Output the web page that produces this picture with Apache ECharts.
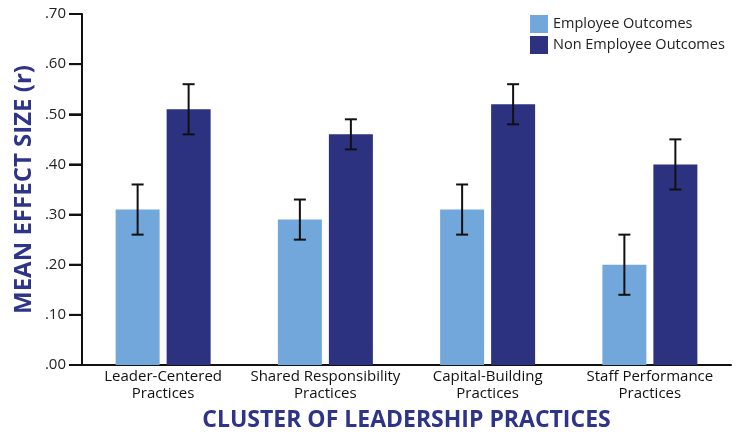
<!DOCTYPE html>
<html>
<head>
<meta charset="utf-8">
<script src="https://cdn.jsdelivr.net/npm/echarts@6/dist/echarts.min.js"></script>
<style>html,body{margin:0;padding:0;background:#fff}#c{width:741px;height:433px}</style>
</head>
<body>
<div id="c"></div>
<script>
var categories = ['Leader-Centered\nPractices', 'Shared Responsibility\nPractices', 'Capital-Building\nPractices', 'Staff Performance\nPractices'];
var seriesNames = ['Employee Outcomes', 'Non Employee Outcomes'];
var employee = [0.31, 0.29, 0.31, 0.20];
var employeeLow = [0.26, 0.25, 0.26, 0.14];
var employeeHigh = [0.36, 0.33, 0.36, 0.26];
var nonEmployee = [0.51, 0.46, 0.52, 0.40];
var nonEmployeeLow = [0.46, 0.43, 0.48, 0.35];
var nonEmployeeHigh = [0.56, 0.49, 0.56, 0.45];
var yTicks = [0, 0.1, 0.2, 0.3, 0.4, 0.5, 0.6, 0.7];

var BAR_W = 44, GAP = 7, TICK_LEN = 13, GRID_LEFT = 82;
var colors = ['#72A7DB', '#2C3180'];
var FONT = 'Open Sans';

function errSeries(low, high, idx) {
  var offset = (idx === 0 ? -1 : 1) * (BAR_W + GAP) / 2;
  return {
    type: 'custom',
    z: 10,
    silent: true,
    data: low.map(function (l, i) { return [i, l, high[i]]; }),
    renderItem: function (params, api) {
      var p1 = api.coord([api.value(0), api.value(1)]);
      var p2 = api.coord([api.value(0), api.value(2)]);
      var x = p1[0] + offset;
      var cap = 6;
      var st = { stroke: '#111', lineWidth: 2 };
      return {
        type: 'group',
        children: [
          { type: 'line', shape: { x1: x, y1: p1[1], x2: x, y2: p2[1] }, style: st },
          { type: 'line', shape: { x1: x - cap, y1: p1[1], x2: x + cap, y2: p1[1] }, style: st },
          { type: 'line', shape: { x1: x - cap, y1: p2[1], x2: x + cap, y2: p2[1] }, style: st }
        ]
      };
    }
  };
}

// y-axis ticks as a custom series: cap-like marks just left of the axis line
var tickSeries = {
  type: 'custom',
  z: 30,
  silent: true,
  clip: false,
  data: yTicks.map(function (t) { return [0, t]; }),
  renderItem: function (params, api) {
    var p = api.coord([0, api.value(1)]);
    var axisX = params.coordSys.x;
    return {
      type: 'line',
      shape: { x1: axisX - TICK_LEN, y1: p[1], x2: axisX, y2: p[1] },
      style: { stroke: '#111', lineWidth: 2 }
    };
  }
};

var chart = echarts.init(document.getElementById('c'));
chart.setOption({
  animation: false,
  textStyle: { fontFamily: FONT },
  grid: { left: GRID_LEFT, right: 10, top: 14, bottom: 68, containLabel: false, outerBoundsMode: 'none' },
  legend: {
    orient: 'vertical', left: 525, top: 10,
    itemWidth: 18, itemHeight: 18, itemGap: 3,
    icon: 'rect',
    data: seriesNames,
    textStyle: { fontSize: 14.5, color: '#222', fontFamily: FONT }
  },
  xAxis: {
    type: 'category',
    data: categories,
    axisLine: { lineStyle: { color: '#111', width: 2 } },
    axisTick: { show: false },
    axisLabel: { interval: 0, fontSize: 15, color: '#111', lineHeight: 17, margin: 3, fontFamily: FONT },
    name: 'CLUSTER OF LEADERSHIP PRACTICES',
    nameLocation: 'middle',
    nameGap: 44,
    nameTextStyle: { fontSize: 23, fontWeight: 'bold', color: '#2E3487', fontFamily: FONT }
  },
  yAxis: {
    type: 'value',
    min: 0, max: 0.7, interval: 0.1,
    axisLine: { show: true, lineStyle: { color: '#111', width: 2 } },
    axisTick: { show: true, inside: false, length: TICK_LEN, lineStyle: { color: '#111', width: 2 } },
    splitLine: { show: false },
    axisLabel: {
      margin: 16, fontSize: 15, color: '#222', fontFamily: FONT,
      formatter: function (v) { return v.toFixed(2).replace(/^0/, ''); }
    },
    name: 'MEAN EFFECT SIZE (r)',
    nameLocation: 'middle',
    nameGap: 46,
    nameMoveOverlap: false,
    nameRotate: 90,
    nameTextStyle: { fontSize: 24, fontWeight: 'bold', color: '#2E3487', fontFamily: FONT }
  },
  series: [
    { name: seriesNames[0], type: 'bar', data: employee, barWidth: BAR_W, barGap: (GAP / BAR_W * 100) + '%', itemStyle: { color: colors[0] } },
    { name: seriesNames[1], type: 'bar', data: nonEmployee, barWidth: BAR_W, itemStyle: { color: colors[1] } },
    errSeries(employeeLow, employeeHigh, 0),
    errSeries(nonEmployeeLow, nonEmployeeHigh, 1),
    tickSeries
  ]
});
</script>
</body>
</html>
